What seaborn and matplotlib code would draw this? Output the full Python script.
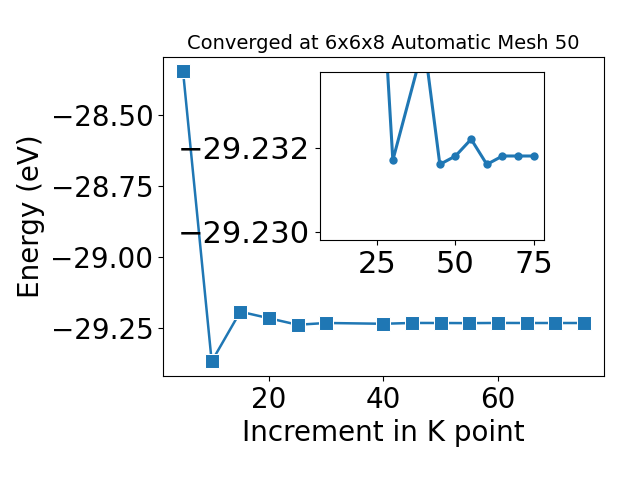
import matplotlib
matplotlib.use("Agg")
import matplotlib.pyplot as plt
import seaborn as sns
import numpy as np
import pandas as pd

# Data
kpoints = [5, 10, 15, 20, 25, 30, 40, 45, 50, 55, 60, 65, 70, 75]
energy = [-28.348, -29.367, -29.192, -29.215, -29.2380, -29.2317, -29.2345,
          -29.2316, -29.2318, -29.2322, -29.2316, -29.2318, -29.2318, -29.2318]
inset_start = 4  # inset shows points from 25 onward
title = "Converged at 6x6x8 Automatic Mesh 50"
xlabel = "Increment in K point"
ylabel = "Energy (eV)"

df = pd.DataFrame({"k": kpoints, "E": energy})

fig = plt.figure(figsize=(6.4, 4.8), dpi=100)
ax = fig.add_axes([0.2547, 0.2167, 0.689, 0.6646])
sns.lineplot(data=df, x="k", y="E", marker="s", markersize=10, linewidth=1.8,
             color="#1f77b4", ax=ax)
ax.set_title(title, fontsize=14)
ax.set_xlabel(xlabel, fontsize=20)
ax.set_ylabel(ylabel, fontsize=20)
ax.tick_params(labelsize=20)
ax.set_xticks([20, 40, 60])
ax.set_yticks([-28.5, -28.75, -29.0, -29.25])
ax.set_yticklabels(["\u221228.50", "\u221228.75", "\u221229.00", "\u221229.25"])

ins = fig.add_axes([0.5, 0.5, 0.35, 0.35])
sns.lineplot(data=df.iloc[inset_start:], x="k", y="E", marker="o", markersize=6,
             markeredgewidth=0, linewidth=2.2, color="#1f77b4", ax=ins)
ins.set_xlim(6.75, 78.25)
ins.set_ylim(-29.2298, -29.2338)
ins.set_xticks([25, 50, 75])
ins.set_yticks([-29.232, -29.230])
ins.set_yticklabels(["\u221229.232", "\u221229.230"])
ins.tick_params(labelsize=22)
ins.set_xlabel("")
ins.set_ylabel("")

fig.savefig("out.png", dpi=100)
